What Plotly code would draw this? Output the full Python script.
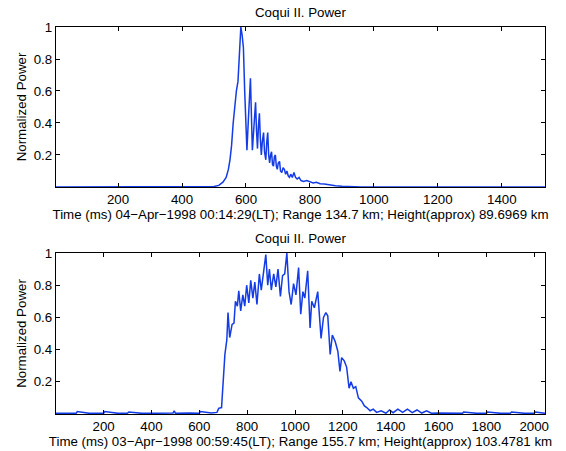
import plotly.graph_objects as go

# ---- top panel data (04-Apr-1998) ----
t1 = [6, 100, 200, 300, 400, 480, 500, 515, 528, 538, 545, 550, 555, 560, 565, 570, 575, 580,
      584, 588, 592, 596, 600, 603, 607, 611, 614, 617, 620, 624, 628, 630, 633, 636, 639, 642,
      645, 648, 651, 655, 658, 662, 665, 668, 671, 674, 677, 680, 683, 686, 689, 692, 695, 698,
      701, 705, 708, 712, 716, 720, 724, 728, 732, 736, 740, 745, 750, 755, 760, 766, 772, 780,
      790, 800, 810, 820, 832, 845, 860, 880, 900, 930, 960, 1100, 1300, 1535]
p1 = [0, 0, 0, 0, 0, 0, 0.003, 0.01, 0.03, 0.06, 0.11, 0.17, 0.26, 0.40, 0.53, 0.60, 0.66, 0.85,
      1.0, 0.95, 0.87, 0.60, 0.30, 0.23, 0.40, 0.62, 0.68, 0.45, 0.23, 0.35, 0.52, 0.53, 0.35, 0.24,
      0.38, 0.46, 0.30, 0.20, 0.28, 0.34, 0.22, 0.17, 0.28, 0.34, 0.20, 0.15, 0.20, 0.22, 0.14,
      0.13, 0.19, 0.20, 0.13, 0.11, 0.15, 0.16, 0.10, 0.09, 0.12, 0.11, 0.08, 0.10, 0.07, 0.06,
      0.08, 0.06, 0.09, 0.06, 0.05, 0.06, 0.04, 0.035, 0.04, 0.03, 0.025, 0.03, 0.02, 0.018, 0.012,
      0.008, 0.005, 0.002, 0.0, 0, 0, 0]

# ---- bottom panel data (03-Apr-1998) ----
t2 = [1, 40, 85, 90, 140, 200, 205, 260, 300, 305, 360, 420, 490, 495, 500, 560, 600, 605, 650,
      674, 681, 693, 698, 707, 715, 720, 727, 737, 745, 751, 759, 765, 773, 782, 790, 798, 807,
      815, 824, 832, 841, 851, 859, 869, 878, 886, 893, 901, 911, 920, 929, 939, 948, 957, 966,
      975, 984, 994, 1004, 1015, 1024, 1033, 1041, 1053, 1063, 1070, 1081, 1095, 1109, 1119,
      1129, 1137, 1147, 1156, 1168, 1179, 1188, 1195, 1206, 1216, 1226, 1234, 1244, 1254, 1265,
      1279, 1290, 1300, 1314, 1327, 1341, 1360, 1380, 1395, 1410, 1430, 1450, 1470, 1490, 1510,
      1530, 1550, 1570, 1600, 1640, 1680, 1700, 1705, 1760, 1800, 1805, 1860, 1900, 1905, 1960,
      2000, 2005, 2045]
p2 = [0.005, 0.005, 0.004, 0.015, 0.004, 0.005, 0.015, 0.004, 0.005, 0.012, 0.004, 0.005,
      0.006, 0.02, 0.005, 0.006, 0.005, 0.015, 0.006,
      0.01, 0.035, 0.04, 0.18, 0.37, 0.46, 0.63, 0.475, 0.556, 0.565, 0.70, 0.67, 0.765, 0.64,
      0.74, 0.67, 0.80, 0.69, 0.83, 0.72, 0.82, 0.68, 0.87, 0.77, 0.89, 0.99, 0.80, 0.90, 0.77,
      0.87, 0.79, 0.90, 0.73, 0.86, 0.87, 1.0, 0.76, 0.68, 0.81, 0.74, 0.91, 0.62, 0.76, 0.72,
      0.89, 0.535, 0.70, 0.66, 0.76, 0.47, 0.60, 0.63, 0.61, 0.37, 0.49, 0.45, 0.39, 0.265, 0.35,
      0.33, 0.29, 0.16, 0.20, 0.16, 0.17, 0.10, 0.08, 0.05, 0.04, 0.02, 0.03, 0.01, 0.02, 0.005,
      0.025, 0.008, 0.03, 0.01, 0.03, 0.008, 0.025, 0.006, 0.02, 0.005, 0.006, 0.004, 0.005,
      0.004, 0.012, 0.004, 0.005, 0.012, 0.004, 0.005, 0.012, 0.004, 0.005, 0.012, 0.004]

title_text = "Coqui II. Power"
xlabel1 = "Time (ms) 04\u2212Apr\u22121998 00:14:29(LT); Range 134.7 km; Height(approx) 89.6969 km"
xlabel2 = "Time (ms) 03\u2212Apr\u22121998 00:59:45(LT); Range 155.7 km; Height(approx) 103.4781 km"
ylabel = "Normalized Power"
xticks1 = [200, 400, 600, 800, 1000, 1200, 1400]
xticks2 = [200, 400, 600, 800, 1000, 1200, 1400, 1600, 1800, 2000]
yticks = [0.2, 0.4, 0.6, 0.8, 1]

FONT = "Liberation Sans, Arial, Helvetica, sans-serif"
BLUE = "rgb(20,60,230)"
FS = 13.3

fig = go.Figure()
fig.add_trace(go.Scatter(x=t1, y=p1, mode="lines", line=dict(color=BLUE, width=1.5),
                         xaxis="x", yaxis="y", showlegend=False, hoverinfo="skip"))
fig.add_trace(go.Scatter(x=t2, y=p2, mode="lines", line=dict(color=BLUE, width=1.5),
                         xaxis="x2", yaxis="y2", showlegend=False, hoverinfo="skip"))

ax_common = dict(showline=True, linecolor="black", linewidth=1.3, mirror="ticks",
                 ticks="inside", ticklen=4, tickcolor="black", tickwidth=1.2,
                 showgrid=False, zeroline=False, automargin=False,
                 tickfont=dict(family=FONT, size=FS, color="black"))

fig.update_layout(
    width=566, height=451,
    margin=dict(l=56, r=21, t=27, b=37),
    paper_bgcolor="white", plot_bgcolor="white",
    font=dict(family=FONT, size=FS, color="black"),
    xaxis=dict(domain=[0, 1], range=[6, 1535], tickvals=xticks1, anchor="y",
               title=dict(text=xlabel1, standoff=0, font=dict(size=FS)), **ax_common),
    yaxis=dict(domain=[0.5866, 1], range=[0, 1], tickvals=yticks, anchor="x",
               title=dict(text=ylabel, standoff=4, font=dict(size=FS)), **ax_common),
    xaxis2=dict(domain=[0, 1], range=[1, 2045], tickvals=xticks2, anchor="y2",
                title=dict(text=xlabel2, standoff=1, font=dict(size=FS)), **ax_common),
    yaxis2=dict(domain=[0, 0.416], range=[0, 1], tickvals=yticks, anchor="x2",
                title=dict(text=ylabel, standoff=4, font=dict(size=FS)), **ax_common),
    annotations=[
        dict(text=title_text, x=0.5, y=1, xref="paper", yref="paper", xanchor="center",
             yanchor="bottom", yshift=5, showarrow=False, font=dict(size=FS)),
        dict(text=title_text, x=0.5, y=0.416, xref="paper", yref="paper", xanchor="center",
             yanchor="bottom", yshift=5, showarrow=False, font=dict(size=FS)),
    ],
)

fig.write_html("out.html", config={"displayModeBar": False},
               post_script="document.body.style.margin='0';document.body.style.padding='0';")
